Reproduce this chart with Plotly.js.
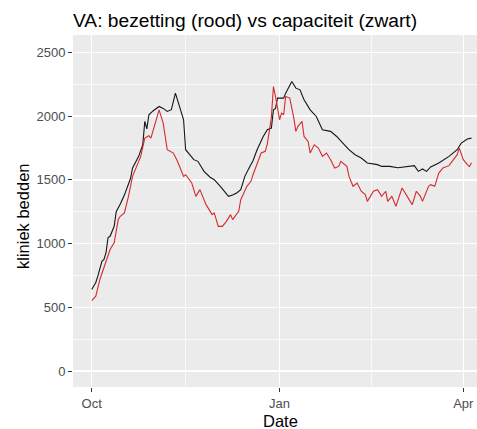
<!DOCTYPE html>
<html>
<head>
<meta charset="utf-8">
<script src="https://cdn.plot.ly/plotly-3.0.1.min.js"></script>
<style>html,body{margin:0;padding:0;background:#fff;}#chart{width:477px;height:429px;}</style>
</head>
<body>
<div id="chart"></div>
<script>
// Day offsets from 2020-10-01 and readings (kliniek bedden)
const startDate = "2020-10-01";
const redDays = [0,2,4,7,9,11,13,14,16,18,20,24,26,28,29,33,35,37,40,42,45,46,49,51,53,56,59,60,62,64,66,68,69,72,73,76,78,79,80,82,83,85,86,88,89,90,92,93,94,95,97,99,100,101,103,104,106,107,109,111,113,115,117,119,121,122,125,126,128,130,132,134,135,138,140,142,144,145,147,149,152,154,157,159,161,162,165,166,168,170,172,175,177,179,180,182,184,185,186];
const redValues = [553,587,718,849,953,1005,1188,1214,1240,1370,1527,1684,1827,1846,1827,2049,1945,1736,1710,1645,1527,1540,1475,1370,1423,1305,1227,1240,1135,1135,1174,1227,1188,1253,1344,1449,1488,1540,1580,1660,1710,1723,1780,1990,2232,2154,1971,2023,2010,2154,2141,1984,1880,1919,1958,1840,1801,1710,1775,1749,1684,1710,1658,1593,1605,1645,1605,1527,1449,1475,1410,1384,1331,1410,1423,1370,1410,1331,1370,1292,1436,1384,1305,1410,1370,1331,1449,1462,1449,1553,1593,1611,1658,1697,1749,1658,1619,1603,1634];
const blackDays = [0,2,3,5,6,7,8,9,11,12,14,16,19,20,23,25,26,27,28,30,33,35,37,39,41,42,45,46,48,50,52,55,58,60,63,67,69,71,73,75,77,79,81,84,86,88,89,90,91,94,95,98,100,102,104,107,110,113,117,120,123,126,129,132,135,140,142,146,150,153,156,158,160,162,164,166,170,175,179,181,184,186];
const blackValues = [640,694,744,861,875,929,1047,1057,1135,1250,1310,1380,1510,1593,1684,1775,1958,1900,2010,2040,2075,2060,2036,2050,2180,2128,1971,1736,1700,1658,1645,1566,1520,1501,1449,1370,1380,1397,1423,1527,1590,1650,1736,1840,1893,1906,2049,2060,2141,2141,2180,2271,2219,2206,2128,2049,1997,1893,1880,1840,1788,1736,1697,1671,1632,1619,1605,1605,1595,1601,1605,1611,1566,1585,1566,1601,1632,1684,1736,1788,1820,1827];
const xTickVals = ["2020-10-01","2021-01-01","2021-04-01"];
const xTickText = ["Oct","Jan","Apr"];
const xMinorVals = ["2020-11-16","2021-02-15"];
const yTickVals = [0,500,1000,1500,2000,2500];
const yMinorVals = [250,750,1250,1750,2250];

function toDates(days){
  const t0 = Date.parse(startDate + "T00:00:00Z");
  return days.map(d => new Date(t0 + d*86400000).toISOString().slice(0,10));
}

const font = '"Liberation Sans", Arial, sans-serif';
const traces = [
  {x: toDates(blackDays), y: blackValues, type: 'scatter', mode: 'lines',
   line: {color: '#151515', width: 1.1}, hoverinfo: 'skip'},
  {x: toDates(redDays), y: redValues, type: 'scatter', mode: 'lines',
   line: {color: '#d42a2e', width: 1.1}, hoverinfo: 'skip'}
];

const layout = {
  width: 477, height: 429,
  margin: {l: 73, r: 0, t: 35, b: 42},
  paper_bgcolor: '#ffffff',
  plot_bgcolor: '#ebebeb',
  showlegend: false,
  font: {family: font, color: '#000'},
  title: {text: 'VA: bezetting (rood) vs capaciteit (zwart)', font: {family: font, size: 19.2, color: '#000'},
          x: 0, xanchor: 'left', xref: 'paper', y: 1 - 20/429, yanchor: 'middle'},
  xaxis: {
    type: 'date', range: ['2020-09-21 20:00', '2021-04-07 17:00'],
    tickmode: 'array', tickvals: xTickVals, ticktext: xTickText,
    ticks: 'outside', ticklen: 4, tickwidth: 1, tickcolor: '#333333',
    tickfont: {family: font, size: 13, color: '#4d4d4d'},
    showgrid: true, gridcolor: '#ffffff', gridwidth: 1.4,
    minor: {tickmode: 'array', tickvals: xMinorVals, showgrid: true, gridcolor: '#ffffff', gridwidth: 0.7, ticks: ''},
    zeroline: false, showline: false, fixedrange: true
  },
  yaxis: {
    range: [-125.5, 2636],
    tickmode: 'array', tickvals: yTickVals,
    ticks: 'outside', ticklen: 4, tickwidth: 1, tickcolor: '#333333',
    tickfont: {family: font, size: 13, color: '#4d4d4d'},
    showgrid: true, gridcolor: '#ffffff', gridwidth: 1.4,
    minor: {tickmode: 'array', tickvals: yMinorVals, showgrid: true, gridcolor: '#ffffff', gridwidth: 0.7, ticks: ''},
    zeroline: false, showline: false, fixedrange: true
  },
  annotations: [
    {text: 'Date', xref: 'paper', yref: 'paper', x: (280 - 73)/404, y: -(421 - 387)/352,
     xanchor: 'center', yanchor: 'middle', showarrow: false, font: {family: font, size: 16.5, color: '#000'}},
    {text: 'kliniek bedden', xref: 'paper', yref: 'paper', x: (23 - 73)/404, y: (387 - 216)/352,
     xanchor: 'center', yanchor: 'middle', textangle: -90, showarrow: false, font: {family: font, size: 16.5, color: '#000'}}
  ]
};

Plotly.newPlot('chart', traces, layout, {staticPlot: true, displayModeBar: false});
</script>
</body>
</html>
